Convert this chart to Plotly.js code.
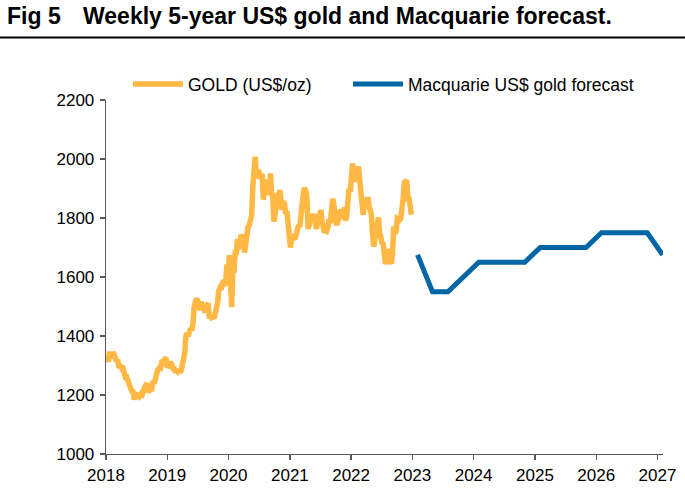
<!DOCTYPE html>
<html>
<head>
<meta charset="utf-8">
<script src="https://cdn.plot.ly/plotly-3.0.1.min.js"></script>
<style>html,body{margin:0;padding:0;background:#fff;}#chart{width:685px;height:494px;}</style>
</head>
<body>
<div id="chart"></div>
<script>
// Weekly gold price (US$/oz); first point plotted at goldStart, one point per week
const goldStart = '2018-01-01';
const gold2018 = [1322,1324,1313,1347,1325, 1332,1345,1336,1323, 1314,1320,1291,1302, 1294,1298,1279,1270,1252,
  1256,1241,1231,1223, 1214,1212,1184,1206,1201, 1197,1194,1200,1192, 1203,1222,1227,1234,
  1233,1209,1222,1223,1222, 1248,1238,1257,1281];
const gold2019 = [1285,1290,1282,1303, 1318,1314,1322,1328, 1294,1298,1302,1313,1292, 1291,1290,1276,1286,
  1280,1286,1277,1284,1305, 1341,1341,1399,1409, 1399,1415,1426,1419, 1440,1497,1513,1527,1520,
  1507,1488,1517,1497, 1505,1488,1490,1505, 1511,1459,1468,1462,1464, 1460,1476,1478,1511];
const gold2020 = [1552,1562,1557,1571,1589, 1570,1584,1643,1585, 1674,1530,1498,1618, 1620,1683,1683,1729,
  1700,1703,1743,1735,1730, 1683,1730,1743,1771, 1775,1798,1810,1902,1975, 2008,1944,1940,1964,
  1933,1940,1950,1862, 1900,1930,1899,1902,1878, 1951,1889,1871,1788, 1839,1839,1881,1877];
const gold2021 = [1895,1850,1828,1856,1848, 1814,1824,1784,1734, 1700,1727,1745,1733, 1729,1744,1777,1777,1769,
  1831,1844,1881,1903, 1891,1877,1764,1781, 1787,1808,1812,1802,1814, 1763,1780,1781,1817,
  1827,1788,1754,1750, 1761,1757,1768,1796,1783, 1818,1865,1846,1788, 1783,1783,1798,1808,1829];
const gold2022 = [1797,1818,1835,1791, 1807,1859,1899,1889, 1970,1985,1921,1958, 1925,1946,1975,1932,1897,
  1883,1811,1846,1853, 1850,1871,1840,1827, 1812,1742,1703,1727,1766, 1775,1802,1747,1738,
  1712,1716,1675,1644,1661, 1695,1644,1657,1645, 1681,1771,1751,1754, 1798,1797,1793,1798,1824];
const gold2023 = [1866,1920,1926,1928,1865,1865,1842,1811];

// Macquarie forecast (US$/oz)
const forecastDates = ['2023-02-01','2023-05-01','2023-08-01','2023-11-01',
  '2024-02-01','2024-05-01','2024-08-01','2024-11-01',
  '2025-02-01','2025-05-01','2025-08-01','2025-11-01',
  '2026-02-01','2026-05-01','2026-08-01','2026-11-01','2027-02-01'];
const forecastValues = [1675,1550,1550,1600, 1650,1650,1650,1650, 1700,1700,1700,1700, 1750,1750,1750,1750, 1675];

// Axis ticks
const xTickLabels = ['2018','2019','2020','2021','2022','2023','2024','2025','2026','2027'];
const yTickValues = [1000,1200,1400,1600,1800,2000,2200];

const goldValues = [].concat(gold2018, gold2019, gold2020, gold2021, gold2022, gold2023);
const t0 = Date.parse(goldStart + 'T00:00:00Z');
const goldDates = goldValues.map((v, i) => new Date(t0 + i * 7 * 86400000).toISOString().slice(0, 10));

const FONT = 'Liberation Sans, Arial, sans-serif';
const AX = '#595959';
const L = 106, R = 663, T = 100, B = 454;
const px = x => (x - L) / (R - L);
const py = y => (B - y) / (B - T);

const traces = [
  {x: goldDates, y: goldValues, type: 'scatter', mode: 'lines', name: 'GOLD (US$/oz)',
   line: {color: '#FFB844', width: 5.5}, legend: 'legend'},
  {x: forecastDates, y: forecastValues, type: 'scatter', mode: 'lines', name: 'Macquarie US$ gold forecast',
   line: {color: '#0066A6', width: 5}, legend: 'legend2'}
];

const legendBase = {orientation: 'h', xanchor: 'left', y: py(84), yanchor: 'middle',
  font: {family: FONT, size: 17.5, color: '#000'}, itemwidth: 50, bgcolor: 'rgba(0,0,0,0)'};

const layout = {
  width: 685, height: 494,
  margin: {l: L, r: 685 - R, t: T, b: 494 - B, pad: 0},
  paper_bgcolor: '#fff', plot_bgcolor: '#fff',
  font: {family: FONT, color: '#000'},
  showlegend: true,
  legend: Object.assign({}, legendBase, {x: px(128)}),
  legend2: Object.assign({}, legendBase, {x: px(348)}),
  xaxis: {type: 'date', range: ['2018-01-01', '2027-02-03'],
          tickvals: xTickLabels.map(y => y + '-01-01'), ticktext: xTickLabels,
          ticks: 'outside', ticklen: 5, tickwidth: 1.3, tickcolor: AX,
          showline: true, linecolor: AX, linewidth: 1.3, showgrid: false, zeroline: false,
          tickfont: {family: FONT, size: 17, color: '#000'}},
  yaxis: {range: [1000, 2200], tickvals: yTickValues,
          ticks: 'outside', ticklen: 5, tickwidth: 1.3, tickcolor: AX,
          showline: true, linecolor: AX, linewidth: 1.3, showgrid: false, zeroline: false,
          ticklabelstandoff: 2,
          tickfont: {family: FONT, size: 17, color: '#000'}},
  annotations: [
    {text: 'Fig 5', xref: 'paper', yref: 'paper', x: px(5), y: py(16), xanchor: 'left', yanchor: 'middle',
     showarrow: false, font: {family: FONT, size: 23, weight: 'bold', color: '#000'}},
    {text: 'Weekly 5-year US$ gold and Macquarie forecast.', xref: 'paper', yref: 'paper', x: px(81), y: py(16),
     xanchor: 'left', yanchor: 'middle', showarrow: false,
     font: {family: FONT, size: 23, weight: 'bold', color: '#000'}}
  ],
  shapes: [
    {type: 'line', xref: 'paper', yref: 'paper', x0: px(0), x1: px(685), y0: py(37.5), y1: py(37.5),
     line: {color: '#000', width: 2}}
  ]
};

Plotly.newPlot('chart', traces, layout, {displayModeBar: false, staticPlot: true});
</script>
</body>
</html>
